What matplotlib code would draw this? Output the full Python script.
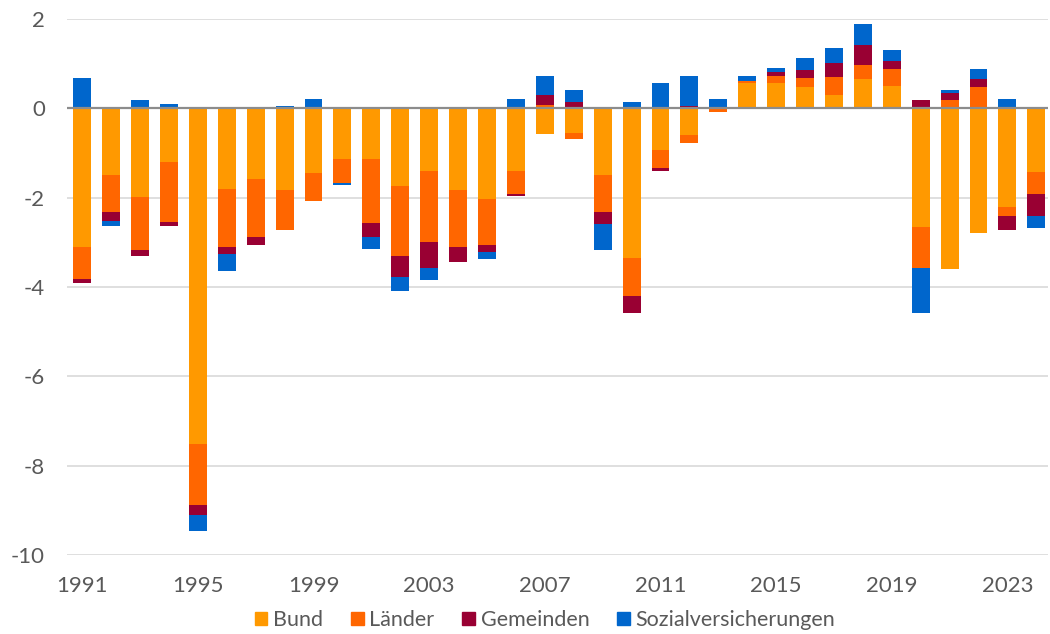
import numpy as np
import matplotlib
matplotlib.use("Agg")
import matplotlib.pyplot as plt
from matplotlib.patches import Patch

# Finanzierungssaldo nach Ebenen, 1991-2024
years = list(range(1991, 2025))
bund = [-3.10, -1.49, -1.99, -1.19, -7.52, -1.80, -1.59, -1.83, -1.44, -1.13,
        -1.13, -1.73, -1.41, -1.82, -2.02, -1.40, -0.57, -0.55, -1.50, -3.35,
        -0.94, -0.59, -0.02, 0.57, 0.57, 0.47, 0.31, 0.65, 0.51, -2.66,
        -3.59, -2.79, -2.21, -1.43]
laender = [-0.73, -0.82, -1.18, -1.35, -1.36, -1.31, -1.29, -0.90, -0.63, -0.54,
           -1.43, -1.58, -1.59, -1.28, -1.04, -0.52, 0.07, -0.13, -0.81, -0.85,
           -0.39, -0.19, -0.06, 0.05, 0.15, 0.22, 0.39, 0.31, 0.36, -0.91,
           0.18, 0.48, -0.19, -0.49]
gemeinden = [-0.07, -0.22, -0.13, -0.10, -0.22, -0.16, -0.19, 0.00, 0.00, 0.00,
             -0.33, -0.47, -0.57, -0.33, -0.16, -0.05, 0.24, 0.15, -0.29, -0.38,
             -0.08, 0.05, 0.00, 0.00, 0.09, 0.16, 0.31, 0.46, 0.19, 0.18,
             0.16, 0.18, -0.32, -0.48]
sozial = [0.68, -0.11, 0.18, 0.09, -0.36, -0.37, 0.03, 0.06, 0.20, -0.05,
          -0.25, -0.31, -0.27, 0.00, -0.15, 0.21, 0.41, 0.26, -0.58, 0.14,
          0.56, 0.67, 0.20, 0.11, 0.10, 0.27, 0.34, 0.46, 0.25, -1.01,
          0.07, 0.22, 0.20, -0.27]

series = [("Bund", bund, "#FF9900"),
          ("Länder", laender, "#FF6600"),
          ("Gemeinden", gemeinden, "#990033"),
          ("Sozialversicherungen", sozial, "#0066CC")]

plt.rcParams['font.family'] = ['Lato', 'DejaVu Sans']
plt.rcParams['axes.unicode_minus'] = False

fig = plt.figure(figsize=(10.5, 6.34), dpi=100)
ax = fig.add_axes([0.064, 0.1246, 0.934, 0.8454])

x = np.array(years)
pos_base = np.zeros(len(years))
neg_base = np.zeros(len(years))
for name, vals, color in series:
    v = np.array(vals)
    pos = np.where(v > 0, v, 0)
    neg = np.where(v < 0, v, 0)
    ax.bar(x, pos, width=0.62, bottom=pos_base, color=color, zorder=3)
    ax.bar(x, neg, width=0.62, bottom=neg_base, color=color, zorder=3)
    pos_base += pos
    neg_base += neg

ax.set_ylim(-10, 2)
ax.set_xlim(1990.48, 2024.4)
ax.set_yticks(range(-10, 3, 2))
ax.set_xticks(range(1991, 2025, 4))
ax.yaxis.grid(True, color="#D9D9D9", linewidth=1.2, zorder=0)
ax.axhline(0, color="#8C8C8C", linewidth=1.6, zorder=4)
for s in ax.spines.values():
    s.set_visible(False)
ax.tick_params(axis="both", length=0, labelsize=16, colors="#595959")
ax.tick_params(axis="x", pad=15)
ax.tick_params(axis="y", pad=16)

handles = [Patch(color=c, label=n) for n, _, c in series]
fig.legend(handles=handles, loc="center", ncol=4, frameon=False,
           bbox_to_anchor=(0.519, 0.022), fontsize=15.5, handlelength=0.6,
           handleheight=0.6, handletextpad=0.25, columnspacing=1.3,
           labelcolor="#595959")

fig.savefig("out.png", dpi=100)
